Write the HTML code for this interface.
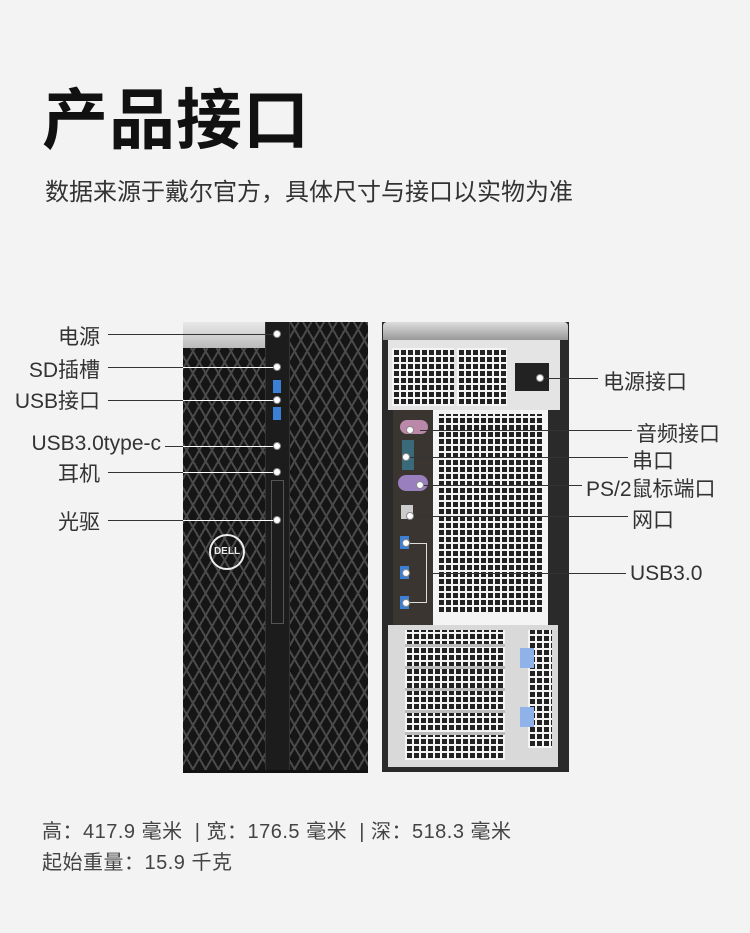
<!DOCTYPE html>
<html><head><meta charset="utf-8"><style>
*{margin:0;padding:0;box-sizing:border-box}
body{width:750px;height:933px;background:#f3f3f3;position:relative;overflow:hidden;font-family:"Liberation Sans","Noto Sans CJK SC",sans-serif;color:#222}
.a{position:absolute}
.mesh{background-color:#151515;background-image:repeating-linear-gradient(60deg,transparent 0 9px,#4a4a4a 9px 11px),repeating-linear-gradient(-60deg,transparent 0 9px,#4a4a4a 9px 11px)}
.grid{background-color:#222;background-image:repeating-linear-gradient(0deg,#f4f4f4 0 2px,transparent 2px 7px),repeating-linear-gradient(90deg,#f4f4f4 0 2px,transparent 2px 7px)}
.lbl{font-size:21px;color:#333;white-space:nowrap}
.ln{height:1px;background:#333}
.dot{width:8px;height:8px;border-radius:50%;background:#fff;border:1px solid #888}
.bl{width:9px;height:13px;background:#3b7fd6}
</style></head><body>
<div class="a" style="left:42px;top:67px;font-size:66px;font-weight:bold;color:#111;letter-spacing:1px">产品接口</div>
<div class="a" style="left:45px;top:172px;font-size:24px;color:#333;white-space:nowrap">数据来源于戴尔官方，具体尺寸与接口以实物为准</div>

<!-- front tower -->
<div class="a mesh" style="left:183px;top:322px;width:185px;height:450px"></div>
<div class="a" style="left:183px;top:322px;width:82px;height:26px;background:linear-gradient(#e9e9e9,#bbb)"></div>
<div class="a" style="left:265px;top:322px;width:25px;height:450px;background:#1c1c1c;border-left:1px solid #333;border-right:1px solid #333"></div>
<div class="a" style="left:271px;top:480px;width:13px;height:144px;border:1px solid #555"></div>
<div class="a" style="left:273px;top:380px;width:8px;height:13px;background:#3b7fd6"></div>
<div class="a" style="left:273px;top:407px;width:8px;height:13px;background:#3b7fd6"></div>
<div class="a" style="left:209px;top:534px;width:36px;height:36px;border-radius:50%;border:2px solid #eee;color:#eee;font-size:10px;font-weight:bold;text-align:center;line-height:32px">DELL</div>
<div class="a" style="left:183px;top:770px;width:185px;height:3px;background:#111"></div>

<!-- back tower -->
<div class="a" style="left:382px;top:322px;width:187px;height:450px;background:#2a2a2a"></div>
<div class="a" style="left:383px;top:322px;width:185px;height:18px;background:linear-gradient(#ddd,#999);border-radius:4px 4px 0 0"></div>
<div class="a" style="left:388px;top:340px;width:172px;height:70px;background:#e4e4e4"></div>
<div class="a grid" style="left:392px;top:348px;width:62px;height:58px"></div>
<div class="a grid" style="left:457px;top:348px;width:50px;height:58px"></div>
<div class="a" style="left:515px;top:363px;width:34px;height:28px;background:#222"></div>
<div class="a" style="left:393px;top:410px;width:40px;height:215px;background:#3a3530"></div>
<div class="a" style="left:433px;top:410px;width:115px;height:215px;background:#f4f4f4"></div>
<div class="a grid" style="left:437px;top:414px;width:107px;height:200px"></div>
<div class="a" style="left:388px;top:625px;width:170px;height:142px;background:#d9d9d9"></div>
<div class="a grid" style="left:405px;top:630px;width:100px;height:130px"></div>
<div class="a" style="left:405px;top:644px;width:100px;height:3px;background:#bbb"></div>
<div class="a" style="left:405px;top:666px;width:100px;height:3px;background:#bbb"></div>
<div class="a" style="left:405px;top:688px;width:100px;height:3px;background:#bbb"></div>
<div class="a" style="left:405px;top:710px;width:100px;height:3px;background:#bbb"></div>
<div class="a" style="left:405px;top:732px;width:100px;height:3px;background:#bbb"></div>
<div class="a grid" style="left:528px;top:630px;width:24px;height:118px"></div>
<div class="a" style="left:520px;top:648px;width:14px;height:20px;background:#8fb3e8"></div>
<div class="a" style="left:520px;top:707px;width:14px;height:20px;background:#8fb3e8"></div>
<div class="a" style="left:400px;top:420px;width:28px;height:14px;background:#bb88aa;border-radius:7px"></div>
<div class="a" style="left:402px;top:440px;width:12px;height:30px;background:#3a6a7a"></div>
<div class="a" style="left:398px;top:475px;width:30px;height:16px;background:#9a7fbf;border-radius:8px"></div>
<div class="a" style="left:401px;top:505px;width:12px;height:14px;background:#ccc"></div>
<div class="a bl" style="left:400px;top:536px"></div>
<div class="a bl" style="left:400px;top:566px"></div>
<div class="a bl" style="left:400px;top:596px"></div>

<!-- left labels -->
<div class="a lbl" style="right:650px;top:321px">电源</div>
<div class="a lbl" style="right:650px;top:354px">SD插槽</div>
<div class="a lbl" style="right:650px;top:385px">USB接口</div>
<div class="a lbl" style="right:589px;top:432px">USB3.0type-c</div>
<div class="a lbl" style="right:650px;top:458px">耳机</div>
<div class="a lbl" style="right:650px;top:506px">光驱</div>
<div class="a ln" style="left:108px;top:334px;width:169px"></div>
<div class="a ln" style="left:183px;top:367px;width:94px;background:#fff"></div>
<div class="a ln" style="left:183px;top:400px;width:94px;background:#fff"></div>
<div class="a ln" style="left:165px;top:446px;width:18px"></div>
<div class="a ln" style="left:183px;top:446px;width:94px;background:#fff"></div>
<div class="a ln" style="left:183px;top:472px;width:94px;background:#fff"></div>
<div class="a ln" style="left:183px;top:520px;width:94px;background:#fff"></div>
<div class="a ln" style="left:108px;top:367px;width:75px"></div>
<div class="a ln" style="left:108px;top:400px;width:75px"></div>
<div class="a ln" style="left:108px;top:472px;width:75px"></div>
<div class="a ln" style="left:108px;top:520px;width:75px"></div>
<div class="a dot" style="left:273px;top:330px"></div>
<div class="a dot" style="left:273px;top:363px"></div>
<div class="a dot" style="left:273px;top:396px"></div>
<div class="a dot" style="left:273px;top:442px"></div>
<div class="a dot" style="left:273px;top:468px"></div>
<div class="a dot" style="left:273px;top:516px"></div>

<!-- right labels -->
<div class="a lbl" style="left:603px;top:366px">电源接口</div>
<div class="a lbl" style="left:636px;top:418px">音频接口</div>
<div class="a lbl" style="left:632px;top:445px">串口</div>
<div class="a lbl" style="left:586px;top:473px">PS/2鼠标端口</div>
<div class="a lbl" style="left:632px;top:504px">网口</div>
<div class="a lbl" style="left:630px;top:562px">USB3.0</div>
<div class="a ln" style="left:540px;top:378px;width:58px"></div>
<div class="a ln" style="left:420px;top:430px;width:212px"></div>
<div class="a ln" style="left:410px;top:457px;width:218px"></div>
<div class="a ln" style="left:420px;top:485px;width:162px"></div>
<div class="a ln" style="left:410px;top:516px;width:218px"></div>
<div class="a ln" style="left:427px;top:573px;width:199px"></div>
<div class="a" style="left:410px;top:543px;width:17px;height:60px;border:1px solid #ddd;border-left:none"></div>
<div class="a dot" style="left:536px;top:374px"></div>
<div class="a dot" style="left:406px;top:426px"></div>
<div class="a dot" style="left:402px;top:453px"></div>
<div class="a dot" style="left:416px;top:481px"></div>
<div class="a dot" style="left:406px;top:512px"></div>
<div class="a dot" style="left:402px;top:539px"></div>
<div class="a dot" style="left:402px;top:569px"></div>
<div class="a dot" style="left:402px;top:599px"></div>

<div class="a" style="left:42px;top:815px;font-size:20px;color:#444;white-space:nowrap;letter-spacing:0.5px">高：417.9 毫米 &nbsp;| 宽：176.5 毫米 &nbsp;| 深：518.3 毫米</div>
<div class="a" style="left:42px;top:846px;font-size:20px;color:#444;white-space:nowrap;letter-spacing:0.5px">起始重量：15.9 千克</div>
</body></html>
